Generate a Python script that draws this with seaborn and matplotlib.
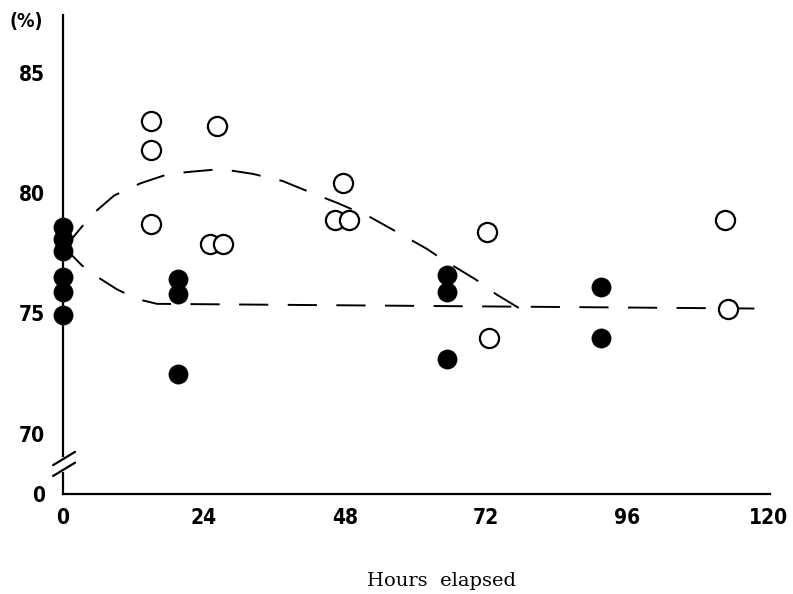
import matplotlib
matplotlib.use("Agg")
import matplotlib.pyplot as plt
import matplotlib.transforms as mtransforms
import seaborn as sns

# open circles
open_hours = [15.0, 15.0, 15.0, 25.0, 26.2, 27.2, 46.3, 47.7, 48.7, 72.2, 72.5, 112.7, 113.2]
open_pct = [83.0, 81.8, 78.7, 77.9, 82.8, 77.9, 78.9, 80.4, 78.9, 78.4, 74.0, 78.9, 75.2]

# filled circles
filled_hours = [0, 0, 0, 0, 0, 0, 19.6, 19.6, 19.6, 65.4, 65.4, 65.4, 91.6, 91.6]
filled_pct = [78.6, 78.1, 77.6, 76.5, 75.9, 74.95, 76.45, 75.8, 72.5, 76.6, 75.9, 73.1, 76.1, 74.0]

# dashed trend curves
upper_hours = [0, 1.5, 4.9, 8.7, 13.1, 18.0, 22.3, 26.9, 32.3, 37.4, 42.4, 46.6,
               52.3, 56.7, 61.8, 64.9, 70.3, 73.7, 79.1]
upper_pct = [77.8, 78.1, 79.1, 79.9, 80.4, 80.8, 80.9, 81.0, 80.8, 80.5, 80.0, 79.6,
             79.0, 78.4, 77.7, 77.2, 76.4, 75.8, 75.0]
lower_hours = [0, 3.2, 6.3, 9.2, 12.6, 16.0, 120.5]
lower_pct = [77.8, 77.0, 76.45, 76.0, 75.6, 75.4, 75.2]

x_ticks = [0, 24, 48, 72, 96, 120]
y_ticks = [67.5, 70, 75, 80, 85]
y_tick_labels = ["0", "70", "75", "80", "85"]

sns.set_style("white")
tick_font = ["DejaVu Sans", "Liberation Sans"]

fig = plt.figure(figsize=(7.93, 5.94), dpi=100)
ax = fig.add_axes([63 / 793, 1 - 494 / 594, 707 / 793, 479 / 594])

dash = (0, (15, 10))
sns.lineplot(x=upper_hours, y=upper_pct, sort=False, ax=ax, color="black",
             lw=1.4, linestyle=dash)
sns.lineplot(x=lower_hours, y=lower_pct, sort=False, ax=ax, color="black",
             lw=1.4, linestyle=dash)

sns.scatterplot(x=open_hours, y=open_pct, ax=ax, s=190, facecolor="white",
                edgecolor="black", linewidth=1.6, zorder=3)
sns.scatterplot(x=filled_hours, y=filled_pct, ax=ax, s=190, color="black",
                edgecolor="black", linewidth=0.5, zorder=4)
for coll in ax.collections:
    coll.set_clip_on(False)

ax.set_xlim(0, 120.3)
ax.set_ylim(67.5, 87.4)
ax.set_xticks(x_ticks)
ax.set_xticklabels([str(t) for t in x_ticks])
ax.set_yticks(y_ticks)
ax.set_yticklabels(y_tick_labels)
ax.tick_params(axis="both", direction="in", length=8, width=1.4, labelsize=15,
               colors="black")
ax.tick_params(axis="y", pad=13)
ax.tick_params(axis="x", pad=10)
for lab in ax.get_xticklabels() + ax.get_yticklabels():
    lab.set_family(tick_font)
    lab.set_fontweight("bold")
    lab.set_fontstretch("condensed")

sns.despine(ax=ax)
for side in ["left", "bottom"]:
    ax.spines[side].set_linewidth(1.6)
    ax.spines[side].set_color("black")

# axis break marks on the y axis
trans = mtransforms.blended_transform_factory(ax.transAxes, ax.transData)
ax.plot([0, 0], [68.5, 68.95], transform=trans, color="white", lw=3,
        clip_on=False, zorder=5)
ax.plot([-0.014, 0.017], [68.7, 69.25], transform=trans, color="black", lw=1.6,
        clip_on=False, zorder=6)
ax.plot([-0.014, 0.017], [68.25, 68.8], transform=trans, color="black", lw=1.6,
        clip_on=False, zorder=6)

fig.text(26 / 793, 1 - 22 / 594, "(%)", ha="center", va="center", color="black",
         fontsize=14, fontweight="bold", fontstretch="condensed", family=tick_font)
fig.text(442 / 793, 1 - 581 / 594, "Hours  elapsed", ha="center", va="center",
         color="black", fontsize=14, family=["DejaVu Serif", "Liberation Serif"])

fig.savefig("out.png", dpi=100)
